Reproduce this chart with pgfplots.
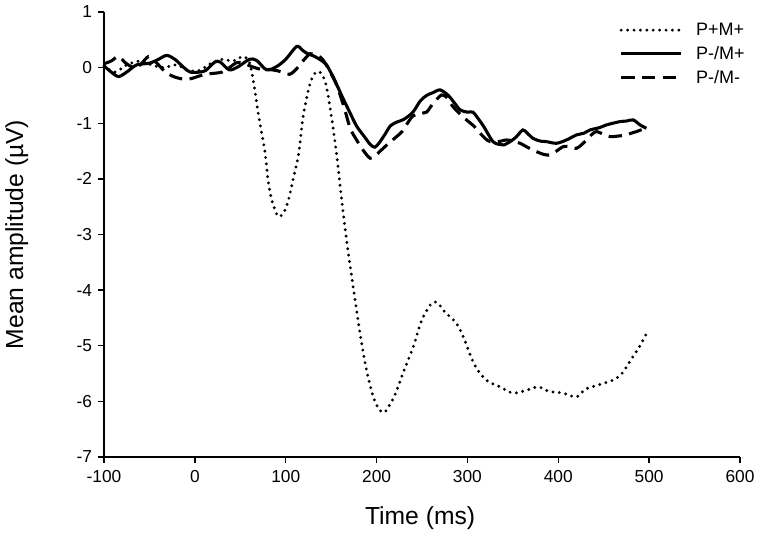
\documentclass[border=0pt]{standalone}
\usepackage{pgfplots}
\pgfplotsset{compat=1.18}
\usepackage{fontspec}
\setmainfont{Liberation Sans}
\begin{document}
\begin{tikzpicture}
\begin{axis}[
  scale only axis,
  width=477pt, height=333.75pt,
  xmin=-100, xmax=600, ymin=-7, ymax=1,
  axis lines*=left,
  axis line style={line width=1pt, -},
  xtick={-100,0,100,200,300,400,500,600},
  ytick={-7,-6,-5,-4,-3,-2,-1,0,1},
  tick align=outside,
  major tick length=4.5pt,
  tick style={line width=1pt, black},
  /pgf/number format/assume math mode=true,
  ticklabel style={font=\fontsize{13}{15}\selectfont},
  xticklabel style={yshift=-2pt},
  yticklabel style={xshift=-1pt},
  xlabel={Time (ms)},
  ylabel={Mean amplitude (µV)},
  xlabel style={font=\fontsize{18.5}{21}\selectfont, at={(axis description cs:0.497,-0.137)}, anchor=center},
  ylabel style={font=\fontsize{18.5}{21}\selectfont, at={(axis description cs:-0.137,0.5)}, anchor=center, rotate=0},
  legend style={draw=none, fill=none, at={(axis description cs:1.014,0.985)}, anchor=north east,
    font=\fontsize{13.5}{15}\selectfont, row sep=2.6pt, inner sep=1pt,
    /tikz/every odd column/.append style={column sep=8pt}},
  legend cell align=left,
  legend image code/.code={\draw[#1] (0pt,0pt) -- (45pt,0pt);},
  clip=false,
]
\addplot[black, line width=2.4pt, line cap=round, dash pattern=on 0pt off 4.8pt, smooth, tension=0.5] coordinates {
(-100,0.03) (-88,-0.08) (-75,0.05) (-60,0.12) (-48,0.05) (-35,0.0) (-20,0.05) (-8,-0.05) (5,-0.05)
(18,0.08) (30,0.15) (42,0.12) (53,0.2) (60,0.1) (65,-0.3) (70,-0.85) (77,-1.5) (81,-2.08) (85,-2.4)
(90,-2.63) (93,-2.68) (98,-2.6) (103,-2.38) (108,-2.02) (114,-1.57) (119,-0.9) (125,-0.4) (130,-0.15)
(135,-0.07) (140,-0.12) (145,-0.35) (150,-0.85) (156,-1.55) (161.6,-2.38) (167,-3.1) (172.6,-3.76)
(178,-4.36) (183.6,-4.96) (189,-5.44) (196.4,-5.92) (203,-6.15) (208.5,-6.2) (213,-6.1) (220,-5.89)
(231,-5.41) (240.4,-5.02) (249.7,-4.54) (259,-4.27) (264.3,-4.21) (270,-4.28) (275,-4.39) (288,-4.6)
(297,-4.9) (308,-5.35) (321,-5.62) (336,-5.74) (350,-5.85) (365,-5.8) (378,-5.74) (390,-5.82)
(405,-5.85) (420,-5.92) (430,-5.78) (445,-5.7) (460,-5.62) (470,-5.5) (480,-5.25) (490,-5.0) (497,-4.78)
};
\addlegendentry{P+M+}
\addplot[black, line width=2.3pt, smooth, tension=0.5] coordinates {
(-100,0.03) (-92,-0.08) (-84,-0.16) (-75,-0.08) (-64,0.05) (-50,0.08) (-40,0.15) (-31,0.22) (-22,0.15)
(-12,0.0) (-5,-0.08) (5,-0.08) (12,-0.05) (22,0.1) (28,0.1) (38,-0.04) (48,0.02) (60,0.15) (68,0.13)
(79,-0.04) (90,0.02) (100,0.15) (112,0.38) (118,0.32) (123,0.26) (132,0.2) (141,0.11) (145,0.05)
(152,-0.16) (156,-0.3) (163,-0.55) (171,-0.82) (178,-1.05) (187,-1.25) (193,-1.38) (198,-1.43)
(203,-1.35) (210,-1.18) (215,-1.05) (222,-0.98) (230,-0.93) (240,-0.8) (248,-0.6) (255,-0.5)
(262,-0.45) (270,-0.4) (279,-0.5) (285,-0.62) (292,-0.76) (300,-0.8) (306,-0.8) (312,-0.92)
(318,-1.06) (328,-1.33) (335,-1.38) (340,-1.39) (348,-1.32) (354,-1.24) (361,-1.12) (366,-1.18)
(372,-1.27) (380,-1.32) (387,-1.33) (398,-1.36) (409,-1.3) (420,-1.21) (428,-1.18) (435,-1.12)
(445,-1.08) (453,-1.03) (460,-1.0) (468,-0.97) (475,-0.96) (482.5,-0.94) (490,-1.03) (497,-1.09)
};
\addlegendentry{P-/M+}
\addplot[black, line width=2.3pt, dash pattern=on 10pt off 5.5pt, smooth, tension=0.5] coordinates {
(-100,0.07) (-92,0.12) (-84,0.2) (-76,0.08) (-67,0.0) (-60,0.05) (-51,0.2) (-43,0.1) (-33,-0.07)
(-25,-0.15) (-15,-0.2) (-5,-0.2) (5,-0.15) (12,-0.12) (22,-0.1) (30,-0.08) (38,0.0) (46,0.09)
(53,0.08) (61,0.03) (70,-0.02) (80,-0.03) (92,-0.06) (104,-0.12) (112,-0.02) (119,0.12) (127,0.25)
(135,0.22) (141,0.14) (148,-0.05) (156,-0.31) (164,-0.7) (171,-1.09) (178,-1.3) (185,-1.48)
(193,-1.63) (199,-1.58) (204,-1.5) (212,-1.38) (222,-1.24) (228,-1.15) (234,-1.0) (240,-0.87)
(248,-0.82) (255,-0.8) (262,-0.65) (271.7,-0.49) (278,-0.55) (284,-0.7) (291,-0.82) (299,-0.94)
(307,-1.05) (314,-1.18) (320,-1.28) (325,-1.33) (334,-1.33) (343,-1.3) (350,-1.32) (358,-1.36)
(367,-1.44) (376,-1.51) (384,-1.56) (391,-1.57) (398,-1.5) (405.5,-1.42) (412,-1.42) (420,-1.45)
(426,-1.38) (431,-1.3) (437,-1.2) (442,-1.15) (450,-1.2) (457,-1.24) (466,-1.23) (475,-1.21)
(480,-1.18) (486,-1.15) (491,-1.12) (497,-1.09)
};
\addlegendentry{P-/M-}
\coordinate (sw) at (axis cs:-100,-7);
\end{axis}
\pgfresetboundingbox
\path (sw) ++(-78pt,-62.25pt) rectangle ++(570pt,405pt);
\end{tikzpicture}
\end{document}
